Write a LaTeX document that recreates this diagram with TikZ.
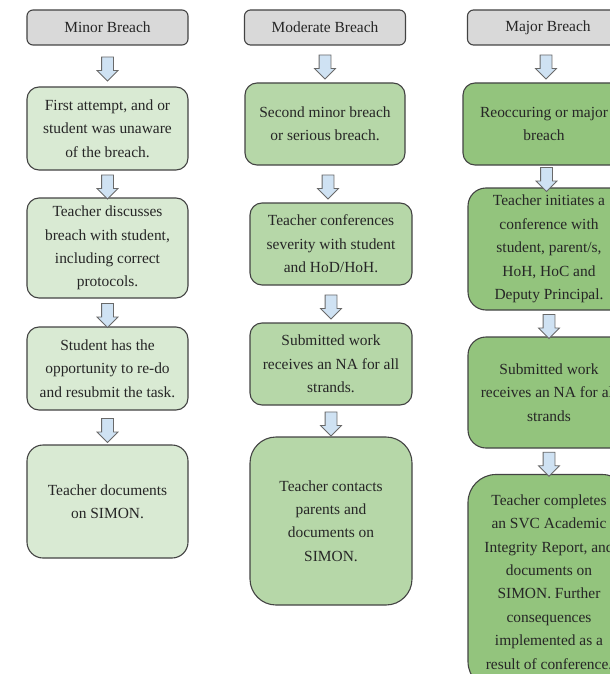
\documentclass[tikz,border=0pt]{standalone}
\usepackage{fontspec}
\setmainfont{Liberation Serif}
\definecolor{HeadGray}  {HTML}{D9D9D9}
\definecolor{MinorGreen}{HTML}{D9EAD3}
\definecolor{ModGreen}  {HTML}{B6D7A8}
\definecolor{MajorGreen}{HTML}{93C47D}
\definecolor{ArrowBlue} {HTML}{CFE2F3}
\definecolor{EdgeGray}  {HTML}{434343}
\usetikzlibrary{shapes.arrows}

\begin{document}
\begin{tikzpicture}[x=1bp,y=-1bp,
  box/.style={draw=EdgeGray,line width=1.1bp,rounded corners=12bp,
              align=center,inner sep=0pt,text=black!85,
              font=\fontsize{15.5}{23.5}\selectfont},
  head/.style={box,fill=HeadGray,minimum width=161bp,minimum height=35bp,
               rounded corners=6bp},
  minor/.style={box,fill=MinorGreen,minimum width=161bp},
  moder/.style={box,fill=ModGreen,minimum width=162bp},
  major/.style={box,fill=MajorGreen,minimum width=162bp},
  flowarr/.style={single arrow,draw=EdgeGray!80,fill=ArrowBlue,line width=0.8bp,
                  shape border rotate=270,minimum height=24bp,inner sep=5.5bp,
                  single arrow head extend=4.5bp}]
  \useasboundingbox (0,0) rectangle (610,674);
  \clip (0,0) rectangle (610,674);
  % minor
  \node[head] (hMin) at (107.5,27.5) {Minor Breach};
  \node[minor,minimum height=83bp] (min1) at (107.5,128.5)
        {First attempt, and or\\student was unaware\\of the breach.};
  \node[minor,minimum height=100bp] (min2) at (107.5,248)
        {Teacher discusses\\breach with student,\\including correct\\protocols.};
  \node[minor,minimum height=83bp] (min3) at (107.5,368.5)
        {Student has the\\opportunity to re-do\\and resubmit the task.};
  \node[minor,minimum height=113bp,rounded corners=16bp] (min4) at (107.5,501.5)
        {Teacher documents\\on SIMON.};
  % moderate
  \node[head] (hMod) at (325,27.5) {Moderate Breach};
  \node[moder,minimum width=160bp,minimum height=82bp] (mod1) at (325,124)
        {Second minor breach\\or serious breach.};
  \node[moder,minimum height=82bp] (mod2) at (331,244)
        {Teacher conferences\\severity with student\\and HoD/HoH.};
  \node[moder,minimum height=82bp] (mod3) at (331,364)
        {Submitted work\\receives an NA for all\\strands.};
  \node[moder,minimum height=168bp,rounded corners=26bp] (mod4) at (331,521)
        {Teacher contacts\\parents and\\documents on\\SIMON.};
  % major
  \node[head] (hMaj) at (548,27.5) {Major Breach};
  \node[major,minimum height=82bp] (maj1) at (544,124)
        {Reoccuring or major\\breach};
  \node[major,minimum height=122bp,rounded corners=18bp] (maj2) at (549,249)
        {Teacher initiates a\\conference with\\student, parent/s,\\HoH, HoC and\\Deputy Principal.};
  \node[major,minimum height=111bp,rounded corners=18bp] (maj3) at (549,392.5)
        {Submitted work\\receives an NA for all\\strands};
  \node[major,minimum height=215bp,rounded corners=28bp] (maj4) at (549,582)
        {Teacher completes\\an SVC Academic\\Integrity Report, and\\documents on\\SIMON. Further\\consequences\\implemented as a\\result of conference.};
  % arrows
  \foreach \a/\b in {hMin/min1,min1/min2,min2/min3,min3/min4,
                     hMod/mod1,mod1/mod2,mod2/mod3,mod3/mod4,
                     hMaj/maj1,maj1/maj2,maj2/maj3,maj3/maj4}
    \path (\a.south) -- node[flowarr]{} (\b.north);
\end{tikzpicture}
\end{document}
